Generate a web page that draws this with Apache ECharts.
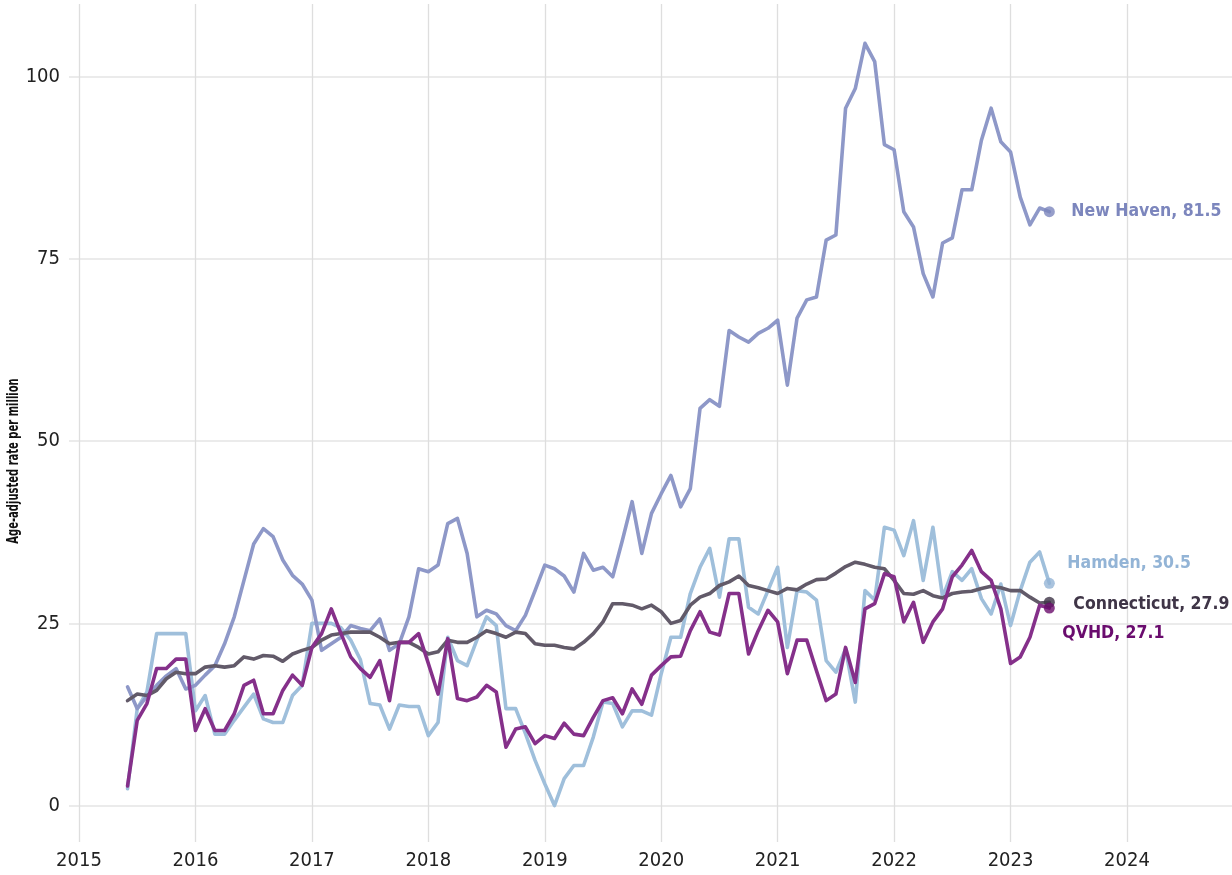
<!DOCTYPE html>
<html>
<head>
<meta charset="utf-8">
<script src="https://cdn.jsdelivr.net/npm/echarts@6/dist/echarts.min.js"></script>
<style>
  html, body { margin: 0; padding: 0; background: #fff; }
  #chart { width: 1232px; height: 875px; }
</style>
</head>
<body>
<div id="chart"></div>
<script>
// monthly series, June 2015 .. May 2023
const startYear = 2015;
const startMonth = 6;
const yearTicks = [2015, 2016, 2017, 2018, 2019, 2020, 2021, 2022, 2023, 2024];
const rateTicks = [0, 25, 50, 75, 100];

const newHaven = [
  16.3, 13.3, 15.0, 16.5, 17.8, 18.8, 16.0, 16.5, 17.9, 19.2, 22.2, 25.9,
  30.9, 35.9, 38.0, 36.9, 33.7, 31.6, 30.4, 28.2, 21.3, 22.2, 23.1, 24.7,
  24.3, 24.0, 25.6, 21.3, 22.2, 25.9, 32.5, 32.1, 33.0, 38.7, 39.4, 34.6,
  25.9, 26.8, 26.3, 24.7, 24.0, 26.1, 29.5, 33.0, 32.5, 31.5, 29.3, 34.6,
  32.3, 32.7, 31.4, 36.4, 41.7, 34.6, 40.1, 42.8, 45.3, 41.0, 43.5, 54.5,
  55.7, 54.8, 65.2, 64.3, 63.6, 64.8, 65.5, 66.6, 57.7, 66.9, 69.4, 69.8,
  77.6, 78.3, 95.7, 98.4, 104.6, 102.1, 90.7, 90.0, 81.5, 79.4, 73.0, 69.8,
  77.2, 77.9, 84.5, 84.5, 91.3, 95.7, 91.1, 89.7, 83.5, 79.7, 82.0, 81.5
];
const hamden = [
  2.3, 13.3, 15.6, 23.6, 23.6, 23.6, 23.6, 13.0, 15.1, 9.8, 9.8, 11.7,
  13.5, 15.3, 11.9, 11.4, 11.4, 15.1, 16.5, 25.0, 25.0, 25.0, 24.4, 22.7,
  20.0, 14.0, 13.8, 10.5, 13.8, 13.6, 13.6, 9.6, 11.4, 23.1, 19.9, 19.2,
  22.7, 25.9, 24.7, 13.3, 13.3, 9.9, 6.2, 3.0, 0.0, 3.7, 5.5, 5.5,
  9.4, 14.2, 14.0, 10.8, 13.0, 13.0, 12.4, 18.1, 23.1, 23.1, 29.1, 32.7,
  35.3, 28.6, 36.6, 36.6, 27.2, 26.3, 29.5, 32.7, 21.7, 29.5, 29.3, 28.2,
  19.9, 18.3, 21.5, 14.2, 29.5, 28.2, 38.2, 37.8, 34.3, 39.1, 30.9, 38.2,
  28.6, 32.1, 30.9, 32.5, 28.4, 26.3, 30.4, 24.7, 29.5, 33.4, 34.8, 30.5
];
const connecticut = [
  14.4, 15.3, 15.1, 15.8, 17.4, 18.3, 18.1, 18.1, 19.0, 19.2, 19.0, 19.2,
  20.4, 20.1, 20.6, 20.5, 19.8, 20.8, 21.3, 21.7, 22.7, 23.4, 23.6, 23.8,
  23.8, 23.8, 23.1, 22.2, 22.4, 22.4, 21.7, 20.8, 21.1, 22.7, 22.4, 22.4,
  23.1, 24.0, 23.6, 23.1, 23.8, 23.6, 22.2, 22.0, 22.0, 21.7, 21.5, 22.4,
  23.6, 25.2, 27.7, 27.7, 27.5, 27.0, 27.5, 26.6, 25.0, 25.4, 27.5, 28.6,
  29.1, 30.2, 30.7, 31.5, 30.2, 29.9, 29.5, 29.1, 29.8, 29.6, 30.4, 31.0,
  31.1, 31.9, 32.8, 33.4, 33.1, 32.7, 32.5, 30.9, 29.1, 29.0, 29.5, 28.8,
  28.5, 29.1, 29.3, 29.4, 29.8, 30.1, 29.9, 29.5, 29.5, 28.6, 27.8, 27.9
];
const qvhd = [
  2.7, 11.7, 14.0, 18.8, 18.8, 20.1, 20.1, 10.3, 13.3, 10.3, 10.3, 12.6,
  16.5, 17.2, 12.6, 12.6, 15.8, 17.9, 16.5, 21.7, 23.6, 27.0, 23.6, 20.4,
  18.8, 17.6, 19.9, 14.4, 22.4, 22.4, 23.6, 19.5, 15.3, 22.9, 14.7, 14.4,
  14.9, 16.5, 15.6, 8.0, 10.5, 10.8, 8.5, 9.6, 9.2, 11.3, 9.8, 9.6,
  12.1, 14.4, 14.8, 12.6, 16.0, 13.9, 17.9, 19.2, 20.4, 20.5, 24.0, 26.6,
  23.8, 23.4, 29.1, 29.1, 20.8, 24.0, 26.8, 25.2, 18.1, 22.7, 22.7, 18.5,
  14.4, 15.3, 21.7, 16.9, 27.0, 27.7, 31.8, 31.4, 25.2, 27.9, 22.4, 25.2,
  27.0, 31.4, 33.0, 35.0, 32.1, 30.9, 27.0, 19.5, 20.4, 23.1, 27.5, 27.1
];

const FONT = "'DejaVu Sans Condensed', sans-serif";

// x position of month i as a decimal year
const monthX = newHaven.map((_, i) => startYear + (startMonth - 1 + i) / 12);

function lineSeries(name, values, lineColor, labelColor, z, offset) {
  return {
    name: name,
    type: 'line',
    z: z,
    data: values.map((v, i) => [monthX[i], v]),
    showSymbol: false,
    silent: true,
    lineStyle: { color: lineColor, width: 3.6, join: 'round', cap: 'round' },
    itemStyle: { color: lineColor },
    endLabel: {
      show: true,
      distance: 0,
      offset: offset,
      formatter: p => name + ', ' + values[values.length - 1].toFixed(1),
      color: labelColor,
      fontFamily: FONT,
      fontWeight: 'bold',
      fontSize: 17.5
    }
  };
}

function endDot(values, color, z) {
  const n = values.length - 1;
  return {
    type: 'scatter',
    z: z,
    silent: true,
    symbolSize: 11,
    itemStyle: { color: color },
    data: [[monthX[n], values[n]]]
  };
}

const chart = echarts.init(document.getElementById('chart'));
chart.setOption({
  animation: false,
  backgroundColor: '#ffffff',
  grid: { left: 69, right: 0, top: 4, bottom: 33 },
  xAxis: {
    type: 'value',
    min: 2014.914,
    max: 2024.902,
    axisLine: { show: false },
    axisTick: { show: false, customValues: yearTicks },
    axisLabel: {
      customValues: yearTicks,
      margin: 9,
      color: '#222',
      fontFamily: FONT,
      fontSize: 20,
      formatter: v => String(Math.round(v))
    },
    splitLine: { show: true, lineStyle: { color: '#dedede', width: 1.3 } }
  },
  yAxis: {
    type: 'value',
    min: -5,
    max: 110,
    axisLine: { show: false },
    axisTick: { show: false, customValues: rateTicks },
    axisLabel: {
      customValues: rateTicks,
      margin: 9,
      color: '#222',
      fontFamily: FONT,
      fontSize: 20
    },
    splitLine: { show: true, lineStyle: { color: '#e4e4e4', width: 1.6 } }
  },
  graphic: [{
    type: 'text',
    x: 14,
    y: 461,
    rotation: Math.PI / 2,
    scaleX: 0.74,
    style: {
      text: 'Age-adjusted rate per million',
      fill: '#111',
      font: 'bold 15px ' + FONT,
      textAlign: 'center',
      textVerticalAlign: 'middle'
    }
  }],
  series: [
    lineSeries('Hamden', hamden, '#9fbfdb', '#93b4d6', 2, [18, -20]),
    lineSeries('New Haven', newHaven, '#8e98c8', '#7c86bd', 3, [22, 0]),
    lineSeries('Connecticut', connecticut, '#625a69', '#3f3547', 4, [24, 2]),
    lineSeries('QVHD', qvhd, '#85308a', '#6a0c6e', 5, [13, 25]),
    endDot(hamden, '#93b4d6', 6),
    endDot(newHaven, '#7c86bd', 6),
    endDot(connecticut, '#3d3346', 6),
    endDot(qvhd, '#6a0c6c', 7)
  ]
});
</script>
</body>
</html>
